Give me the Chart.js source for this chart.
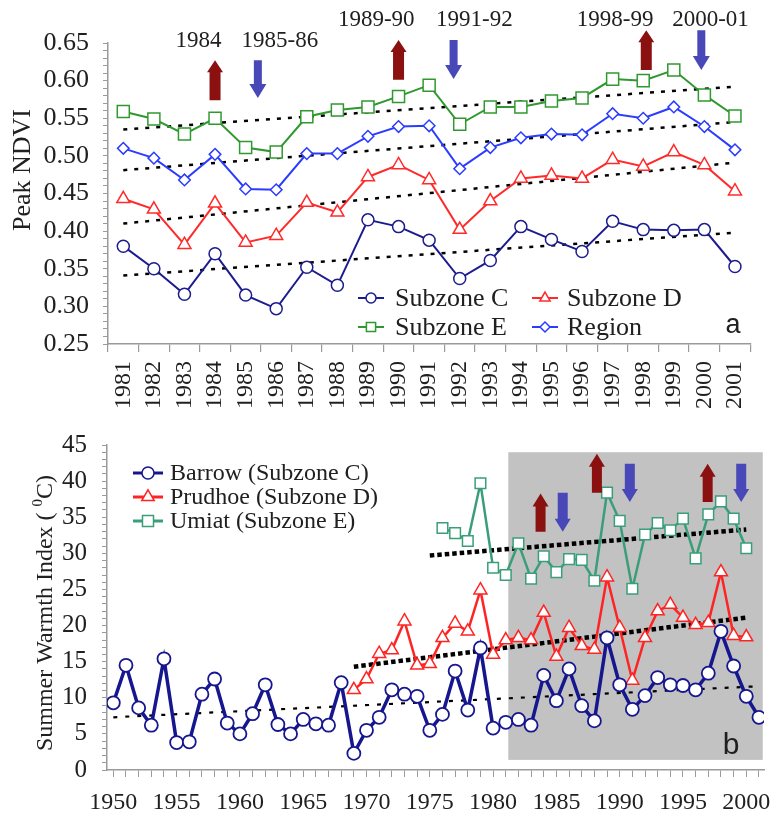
<!DOCTYPE html>
<html><head><meta charset="utf-8">
<script src="https://cdn.jsdelivr.net/npm/chart.js@4.4.1/dist/chart.umd.min.js"></script>
<style>
html,body{margin:0;padding:0;background:#fff;}
#wrap{position:relative;width:773px;height:814px;overflow:hidden;}
canvas{position:absolute;left:0;}
#c1{top:0;width:773px;height:415px;}
#c2{top:415px;width:773px;height:399px;}
</style></head><body>
<div id="wrap"><canvas id="c1" width="773" height="415"></canvas><canvas id="c2" width="773" height="399"></canvas></div>
<script>
// ---------- Panel a: Peak NDVI ----------
const ndviYears = ['1981','1982','1983','1984','1985','1986','1987','1988','1989','1990','1991','1992','1993','1994','1995','1996','1997','1998','1999','2000','2001'];
const subzoneC = [0.380,0.350,0.316,0.370,0.315,0.297,0.352,0.328,0.415,0.406,0.388,0.337,0.361,0.406,0.389,0.373,0.413,0.402,0.401,0.402,0.353];
const subzoneD = [0.443,0.429,0.382,0.437,0.385,0.394,0.438,0.425,0.472,0.488,0.468,0.402,0.440,0.470,0.474,0.470,0.495,0.486,0.505,0.488,0.453];
const subzoneE = [0.559,0.549,0.529,0.550,0.511,0.505,0.552,0.561,0.565,0.579,0.594,0.542,0.565,0.565,0.573,0.577,0.602,0.600,0.614,0.581,0.553];
const region   = [0.510,0.497,0.468,0.502,0.456,0.455,0.503,0.503,0.526,0.539,0.540,0.483,0.511,0.524,0.529,0.528,0.556,0.550,0.565,0.539,0.508];
// trend lines: [value at 1981, value at 2001]
const trendC = [0.341, 0.398];
const trendD = [0.410, 0.491];
const trendRegion = [0.481, 0.545];
const trendE = [0.535, 0.592];
// event annotations (category index, NDVI value)
const ndviEvents = [
  {text:'1984',    textAt:2.46, textV:0.653, arrowAt:3.0,  from:0.574, to:0.627},
  {text:'1985-86', textAt:5.12, textV:0.653, arrowAt:4.4,  from:0.627, to:0.577},
  {text:'1989-90', textAt:8.27, textV:0.681, arrowAt:9.0,  from:0.601, to:0.654},
  {text:'1991-92', textAt:11.48,textV:0.681, arrowAt:10.8, from:0.654, to:0.602},
  {text:'1998-99', textAt:16.08,textV:0.681, arrowAt:17.1, from:0.614, to:0.667},
  {text:'2000-01', textAt:19.2, textV:0.681, arrowAt:18.9, from:0.667, to:0.614}
];

// ---------- Panel b: Summer Warmth Index ----------
const barrowStart = 1950;
const barrow = [9.3,14.5,8.6,6.2,15.4,3.8,3.9,10.5,12.6,6.5,
                5.0,7.8,11.8,6.3,5.0,7.0,6.4,6.2,12.1,2.3,
                5.5,7.3,11.1,10.5,10.2,5.5,7.7,13.7,8.3,16.9,
                5.8,6.6,7.0,6.2,13.1,9.6,14.0,8.9,6.8,18.3,
                11.8,8.4,10.3,12.8,11.8,11.7,11.1,13.4,19.2,14.4,
                10.2,7.3];
const prudhoeStart = 1969;
const prudhoe = [11.1,12.6,16.1,16.6,20.6,14.5,14.7,18.3,20.3,19.2,
                 24.9,16.0,18.0,18.3,18.0,21.8,15.7,19.7,17.2,16.7,
                 26.7,19.7,12.4,18.3,22.0,22.9,21.1,20.1,20.4,27.4,
                 18.6,18.4];
const umiatStart = 1976;
const umiat = [33.5,32.8,31.7,39.7,28.0,27.0,31.4,26.5,29.6,27.4,
               29.2,29.1,26.2,38.4,34.5,25.1,32.6,34.2,33.2,34.8,
               29.3,35.4,37.2,34.8,30.7];
// trend lines: [[year, value], [year, value]]
const trendBarrow  = [[1950, 7.3], [2001, 11.6]];
const trendPrudhoe = [[1969, 14.3], [2000, 21.1]];
const trendUmiat   = [[1975, 29.7], [2000, 33.3]];
// shaded period and arrows (year, SWI)
const shadePeriod = {x0:1981.2, x1:2001.3, y0:1.4, y1:44.0};
const swiArrows = [
  {at:1983.75, from:33.0, to:38.3},
  {at:1985.5,  from:38.4, to:33.0},
  {at:1988.2,  from:38.4, to:43.8},
  {at:1990.8,  from:42.4, to:37.1},
  {at:1996.95, from:37.1, to:42.4},
  {at:1999.6,  from:42.4, to:37.1}
];

const SERIF = "'Liberation Serif','Times New Roman',serif";
const SANS = "'Liberation Sans',Arial,sans-serif";
const TXT = '#202020';
const AXIS = '#9a9a9a';
const RED_ARROW = '#8b1010';
const BLUE_ARROW = '#4848b8';

function drawMarker(ctx, style, x, y, r, color, lw) {
  ctx.save();
  ctx.beginPath();
  if (style === 'circle') ctx.arc(x, y, r, 0, Math.PI * 2);
  else if (style === 'triangle') {
    for (let k = 0; k < 3; k++) {
      const a = k * 2 * Math.PI / 3;
      const px = x + Math.sin(a) * r, py = y - Math.cos(a) * r;
      if (k === 0) ctx.moveTo(px, py); else ctx.lineTo(px, py);
    }
  } else if (style === 'rect') {
    const s = r * Math.SQRT1_2; ctx.rect(x - s, y - s, 2 * s, 2 * s);
  } else if (style === 'rectRot') {
    ctx.moveTo(x - r, y); ctx.lineTo(x, y - r); ctx.lineTo(x + r, y); ctx.lineTo(x, y + r);
  }
  ctx.closePath();
  ctx.fillStyle = '#fff'; ctx.fill();
  ctx.strokeStyle = color; ctx.lineWidth = lw; ctx.stroke();
  ctx.restore();
}

function drawArrow(ctx, px, yTail, yTip, color, shaft, head, headLen) {
  const dir = Math.sign(yTip - yTail);
  const hb = yTip - dir * headLen;
  ctx.save();
  ctx.fillStyle = color;
  ctx.beginPath();
  ctx.moveTo(px - shaft / 2, yTail);
  ctx.lineTo(px - shaft / 2, hb);
  ctx.lineTo(px - head / 2, hb);
  ctx.lineTo(px, yTip);
  ctx.lineTo(px + head / 2, hb);
  ctx.lineTo(px + shaft / 2, hb);
  ctx.lineTo(px + shaft / 2, yTail);
  ctx.closePath();
  ctx.fill();
  ctx.restore();
}

function drawLegend(ctx, items, fontSize, sampleHalf, markerR) {
  ctx.save();
  ctx.font = fontSize + 'px ' + SERIF;
  ctx.textBaseline = 'middle';
  ctx.textAlign = 'left';
  items.forEach(it => {
    ctx.strokeStyle = it.color; ctx.lineWidth = it.lw;
    ctx.beginPath(); ctx.moveTo(it.cx - sampleHalf, it.cy); ctx.lineTo(it.cx + sampleHalf, it.cy); ctx.stroke();
    drawMarker(ctx, it.style, it.cx, it.cy, markerR * (it.style === 'triangle' ? 1.2 : it.style === 'rect' ? 1.3 : 1), it.color, 1.5);
    ctx.fillStyle = TXT;
    ctx.fillText(it.label, it.tx, it.cy + 1);
  });
  ctx.restore();
}

function series(label, data, color, style, r, lw, plw) {
  return {label, data, borderColor: color, backgroundColor: '#fff', pointBackgroundColor: '#fff',
    pointBorderColor: color, pointStyle: style, pointRadius: r, pointBorderWidth: plw,
    borderWidth: lw, tension: 0, order: 1};
}
function trendSet(points, width, dash) {
  return {label: '', data: points, borderColor: '#000', borderWidth: width, borderDash: dash,
    pointRadius: 0, tension: 0, fill: false, order: 2, borderCapStyle: 'butt'};
}

// ---------- chart a ----------
const C_NAVY = '#1c1c8e', C_RED = '#ff2b2b', C_GREEN = '#2f992f', C_BLUE = '#2a3cff';
const topDecor = {
  id: 'topDecor',
  afterDraw(chart) {
    const {ctx, scales: {x, y}} = chart;
    ctx.save();
    ndviEvents.forEach(ev => {
      const up = ev.to > ev.from;
      drawArrow(ctx, x.getPixelForValue(ev.arrowAt), y.getPixelForValue(ev.from), y.getPixelForValue(ev.to),
        up ? RED_ARROW : BLUE_ARROW, up ? 11 : 8, up ? 16 : 17, up ? 12 : 14);
      ctx.fillStyle = TXT; ctx.font = '23px ' + SERIF; ctx.textAlign = 'center'; ctx.textBaseline = 'middle';
      ctx.fillText(ev.text, x.getPixelForValue(ev.textAt), y.getPixelForValue(ev.textV));
    });
    // legend
    const ds = chart.data.datasets;
    drawLegend(ctx, [
      {label: ds[0].label, color: ds[0].borderColor, style: ds[0].pointStyle, lw: 2, cx: 371, cy: 298, tx: 395},
      {label: ds[1].label, color: ds[1].borderColor, style: ds[1].pointStyle, lw: 2, cx: 545, cy: 298, tx: 567},
      {label: ds[2].label, color: ds[2].borderColor, style: ds[2].pointStyle, lw: 2, cx: 371, cy: 327, tx: 395},
      {label: ds[3].label, color: ds[3].borderColor, style: ds[3].pointStyle, lw: 2, cx: 545, cy: 327, tx: 567}
    ], 26, 13, 5);
    // panel letter
    ctx.fillStyle = TXT; ctx.font = '27px ' + SANS; ctx.textAlign = 'center'; ctx.textBaseline = 'middle';
    ctx.fillText('a', 733, 326);
    // y title
    ctx.translate(23, 170); ctx.rotate(-Math.PI / 2);
    ctx.font = '26px ' + SERIF; ctx.fillText('Peak NDVI', 0, 0);
    ctx.restore();
  }
};

new Chart(document.getElementById('c1'), {
  type: 'line',
  data: {
    labels: ndviYears,
    datasets: [
      series('Subzone C', subzoneC, C_NAVY, 'circle', 6, 2, 1.5),
      series('Subzone D', subzoneD, C_RED, 'triangle', 7.5, 2, 1.5),
      series('Subzone E', subzoneE, C_GREEN, 'rect', 8.5, 2, 1.5),
      series('Region', region, C_BLUE, 'rectRot', 5.8, 2, 1.5),
      trendSet([{x: ndviYears[0], y: trendC[0]}, {x: ndviYears[20], y: trendC[1]}], 2.5, [4, 7]),
      trendSet([{x: ndviYears[0], y: trendD[0]}, {x: ndviYears[20], y: trendD[1]}], 2.5, [4, 7]),
      trendSet([{x: ndviYears[0], y: trendRegion[0]}, {x: ndviYears[20], y: trendRegion[1]}], 2.5, [4, 7]),
      trendSet([{x: ndviYears[0], y: trendE[0]}, {x: ndviYears[20], y: trendE[1]}], 2.5, [4, 7])
    ]
  },
  options: {
    responsive: false, animation: false, devicePixelRatio: 1,
    layout: {padding: {top: 43, right: 4, left: 0, bottom: 0}},
    plugins: {legend: {display: false}, tooltip: {enabled: false}},
    scales: {
      x: {
        type: 'category', offset: true,
        grid: {offset: true, drawOnChartArea: false, drawTicks: true, tickLength: 8, color: AXIS, lineWidth: 1.2},
        border: {display: true, color: AXIS, width: 1.5},
        ticks: {autoSkip: false, minRotation: 90, maxRotation: 90, padding: 9, color: TXT, font: {family: SERIF, size: 24}},
        afterFit: s => { s.height = 71; }
      },
      y: {
        min: 0.25, max: 0.65,
        grid: {drawOnChartArea: false, tickLength: 5, color: AXIS, lineWidth: 1},
        border: {display: true, color: AXIS, width: 1.5},
        ticks: {stepSize: 0.01, autoSkip: false, maxTicksLimit: 1000, padding: 14, color: TXT,
          font: {family: SERIF, size: 26},
          callback: v => (Math.round(v * 100) % 5 === 0 ? v.toFixed(2) : '')},
        afterFit: s => { s.width = 108; }
      }
    }
  },
  plugins: [topDecor]
});

// ---------- chart b ----------
const B_NAVY = '#16168f', B_RED = '#ff2424', B_TEAL = '#3a9e7a';
const toXY = (start, arr) => arr.map((v, i) => ({x: start + i, y: v}));
const bottomDecor = {
  id: 'bottomDecor',
  beforeDatasetsDraw(chart) {
    const {ctx, scales: {x, y}} = chart;
    const px0 = x.getPixelForValue(shadePeriod.x0), px1 = x.getPixelForValue(shadePeriod.x1);
    const py0 = y.getPixelForValue(shadePeriod.y1), py1 = y.getPixelForValue(shadePeriod.y0);
    ctx.save(); ctx.fillStyle = '#c2c2c2'; ctx.fillRect(px0, py0, px1 - px0, py1 - py0); ctx.restore();
  },
  afterDraw(chart) {
    const {ctx, scales: {x, y}} = chart;
    ctx.save();
    swiArrows.forEach(a => {
      const up = a.to > a.from;
      drawArrow(ctx, x.getPixelForValue(a.at), y.getPixelForValue(a.from), y.getPixelForValue(a.to),
        up ? RED_ARROW : BLUE_ARROW, 10, 16, 13);
    });
    const ds = chart.data.datasets;
    drawLegend(ctx, [
      {label: ds[0].label, color: ds[0].borderColor, style: ds[0].pointStyle, lw: 3, cx: 148, cy: 58, tx: 170},
      {label: ds[1].label, color: ds[1].borderColor, style: ds[1].pointStyle, lw: 3, cx: 148, cy: 82, tx: 170},
      {label: ds[2].label, color: ds[2].borderColor, style: ds[2].pointStyle, lw: 3, cx: 148, cy: 106, tx: 170}
    ], 24, 15, 6);
    ctx.fillStyle = TXT; ctx.font = '30px ' + SANS; ctx.textAlign = 'center'; ctx.textBaseline = 'middle';
    ctx.fillText('b', 731, 331);
    // y title with superscript
    ctx.translate(46, 198); ctx.rotate(-Math.PI / 2);
    ctx.textAlign = 'left'; ctx.textBaseline = 'middle';
    const big = '24px ' + SERIF, small = '15px ' + SERIF;
    const p1 = 'Summer Warmth Index ( ', p2 = '0', p3 = 'C)';
    ctx.font = big; const w1 = ctx.measureText(p1).width, w3 = ctx.measureText(p3).width;
    ctx.font = small; const w2 = ctx.measureText(p2).width;
    let sx = -(w1 + w2 + w3) / 2;
    ctx.font = big; ctx.fillText(p1, sx, 0); sx += w1;
    ctx.font = small; ctx.fillText(p2, sx, -8); sx += w2;
    ctx.font = big; ctx.fillText(p3, sx, 0);
    ctx.restore();
  }
};

new Chart(document.getElementById('c2'), {
  type: 'line',
  data: {
    datasets: [
      series('Barrow (Subzone C)', toXY(barrowStart, barrow), B_NAVY, 'circle', 6.5, 3.5, 1.8),
      series('Prudhoe (Subzone D)', toXY(prudhoeStart, prudhoe), B_RED, 'triangle', 7.5, 2.5, 1.5),
      series('Umiat (Subzone E)', toXY(umiatStart, umiat), B_TEAL, 'rect', 7.5, 2.5, 1.5),
      trendSet(trendBarrow.map(p => ({x: p[0], y: p[1]})), 2.2, [4, 8]),
      trendSet(trendPrudhoe.map(p => ({x: p[0], y: p[1]})), 4.5, [4.5, 3]),
      trendSet(trendUmiat.map(p => ({x: p[0], y: p[1]})), 4.5, [4.5, 3])
    ]
  },
  options: {
    responsive: false, animation: false, devicePixelRatio: 1,
    layout: {padding: {top: 28, right: 8, left: 0, bottom: 0}},
    plugins: {legend: {display: false}, tooltip: {enabled: false}},
    scales: {
      x: {
        type: 'linear', min: 1949.5, max: 2001.4,
        grid: {drawOnChartArea: false, drawTicks: true, tickLength: 7, color: AXIS, lineWidth: 1},
        border: {display: true, color: AXIS, width: 1.5},
        ticks: {stepSize: 1, includeBounds: false, autoSkip: false, maxRotation: 0, minRotation: 0, padding: 11,
          color: TXT, font: {family: SERIF, size: 24},
          callback: v => (v % 5 === 0 ? String(v) : '')},
        afterFit: s => { s.height = 44; }
      },
      y: {
        min: 0, max: 45,
        grid: {drawOnChartArea: false, tickLength: 5, color: AXIS, lineWidth: 1},
        border: {display: true, color: AXIS, width: 1.5},
        ticks: {stepSize: 1, autoSkip: false, maxTicksLimit: 1000, padding: 15, color: TXT,
          font: {family: SERIF, size: 25},
          callback: v => (v % 5 === 0 ? String(v) : '')},
        afterFit: s => { s.width = 107; }
      }
    }
  },
  plugins: [bottomDecor]
});
</script>
</body></html>
